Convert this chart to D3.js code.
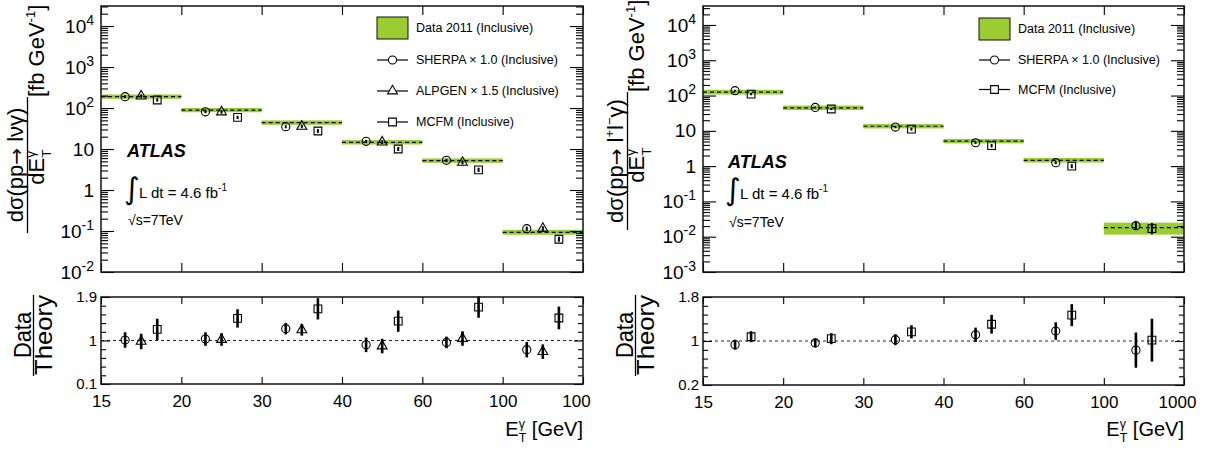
<!DOCTYPE html>
<html>
<head>
<meta charset="utf-8">
<script src="https://cdn.jsdelivr.net/npm/d3@7"></script>
<style>
body { margin: 0; background: #fff; }
svg { display: block; font-family: "Liberation Sans", Arial, Helvetica, sans-serif; }
</style>
</head>
<body>
<svg id="chart" width="1211" height="450"></svg>
<script>
// bins are drawn with equal width, labels are the bin edges
var wgBinLabels = ['15', '20', '30', '40', '60', '100', '100'],
    zgBinLabels = ['15', '20', '30', '40', '60', '100', '1000'];

// W gamma (left) - measured cross section and its band
var wgData   = [190, 89, 44, 14.6, 5.2, 0.093],
    wgBandLo = [168, 79, 39, 12.9, 4.6, 0.081],
    wgBandHi = [214, 100, 50, 16.5, 5.9, 0.107];

// W gamma predictions
var wgSherpa    = [189, 81, 35, 15.4, 5.3, 0.114],
    wgSherpaErr = [0.08, 0.08, 0.09, 0.09, 0.1, 0.12],
    wgAlpgen    = [195, 80, 35.6, 14.7, 4.7, 0.115],
    wgAlpgenErr = [0.1, 0.1, 0.1, 0.11, 0.12, 0.14],
    wgMcfm      = [157, 59, 27.5, 10, 3.1, 0.063],
    wgMcfmErr   = [0.1, 0.1, 0.11, 0.12, 0.13, 0.15];

// W gamma data / theory
var wgSherpaRatio    = [1.01, 1.03, 1.245, 0.91, 0.96, 0.81],
    wgSherpaRatioErr = [0.16, 0.14, 0.12, 0.15, 0.12, 0.16],
    wgAlpgenRatio    = [0.98, 1.02, 1.22, 0.885, 1.04, 0.77],
    wgAlpgenRatioErr = [0.16, 0.13, 0.12, 0.15, 0.15, 0.15],
    wgMcfmRatio      = [1.23, 1.457, 1.655, 1.40, 1.69, 1.466],
    wgMcfmRatioErr   = [0.22, 0.19, 0.22, 0.22, 0.22, 0.235];

// Z gamma (right)
var zgData   = [125, 45, 13.5, 5.1, 1.46, 0.018],
    zgBandLo = [107, 39, 11.7, 4.4, 1.26, 0.0115],
    zgBandHi = [146, 52, 15.6, 5.9, 1.7, 0.025];

var zgSherpa    = [137, 46, 12.8, 4.6, 1.25, 0.0205],
    zgSherpaErr = [0.06, 0.06, 0.07, 0.08, 0.1, 0.3],
    zgMcfm      = [110, 41.7, 11.2, 3.8, 1.0, 0.0169],
    zgMcfmErr   = [0.08, 0.08, 0.1, 0.12, 0.14, 0.45];

var zgSherpaRatio    = [0.934, 0.964, 1.024, 1.113, 1.18, 0.834],
    zgSherpaRatioErr = [0.09, 0.08, 0.1, 0.13, 0.16, 0.32],
    zgMcfmRatio      = [1.078, 1.042, 1.167, 1.305, 1.47, 1.015],
    zgMcfmRatioErr   = [0.1, 0.1, 0.12, 0.17, 0.2, 0.39];

var green = '#9acd32';
var svg = d3.select('#chart');


drawPanel({
	left: 101, right: 583, top: 6, bottom: 272, rTop: 297, rBottom: 384,
	yDomain: [1e-2, 3.08e4], rDomain: [0.1, 1.9], rMajor: [0.1, 1, 1.9],
	labels: wgBinLabels, data: wgData, bandLo: wgBandLo, bandHi: wgBandHi,
	series: [
		{name: 'SHERPA \u00d7 1.0 (Inclusive)', shape: d3.symbolCircle, size: 52, frac: 0.3,
		 vals: wgSherpa, err: wgSherpaErr, ratio: wgSherpaRatio, ratioErr: wgSherpaRatioErr},
		{name: 'ALPGEN \u00d7 1.5 (Inclusive)', shape: d3.symbolTriangle, size: 42, frac: 0.5,
		 vals: wgAlpgen, err: wgAlpgenErr, ratio: wgAlpgenRatio, ratioErr: wgAlpgenRatioErr},
		{name: 'MCFM (Inclusive)', shape: d3.symbolSquare, size: 60, frac: 0.7,
		 vals: wgMcfm, err: wgMcfmErr, ratio: wgMcfmRatio, ratioErr: wgMcfmRatioErr}
	],
	legend: {x: 377, boxTop: 17, rows: [60, 91, 122]},
	title: {num: [['d\u03c3(pp'], ['\u2192', 'arrow'], [' l\u03bd\u03b3)']], numX: 23, numY: 165,
	        barX: 27.5, barY: [97, 233], denX: 44, denY: 167, unitY: 97},
	ratioTitle: {x: 0},
	atlas: {x: 127, y: 157, lumiY: 198, sqrtY: 225}
});

drawPanel({
	left: 703, right: 1184, top: 6, bottom: 272, rTop: 297, rBottom: 385,
	yDomain: [1e-3, 3.45e4], rDomain: [0.2, 1.8], rMajor: [0.2, 1, 1.8],
	labels: zgBinLabels, data: zgData, bandLo: zgBandLo, bandHi: zgBandHi,
	series: [
		{name: 'SHERPA \u00d7 1.0 (Inclusive)', shape: d3.symbolCircle, size: 52, frac: 0.4,
		 vals: zgSherpa, err: zgSherpaErr, ratio: zgSherpaRatio, ratioErr: zgSherpaRatioErr},
		{name: 'MCFM (Inclusive)', shape: d3.symbolSquare, size: 60, frac: 0.6,
		 vals: zgMcfm, err: zgMcfmErr, ratio: zgMcfmRatio, ratioErr: zgMcfmRatioErr}
	],
	legend: {x: 979, boxTop: 18, rows: [60, 89.5]},
	title: {num: [['d\u03c3(pp'], ['\u2192', 'arrow'], [' l'], ['+', 'sup'], ['l'], ['\u2212', 'sup'], ['\u03b3)']],
	        numX: 623, numY: 161, barX: 627.5, barY: [92, 230], denX: 644, denY: 165, unitY: 92},
	ratioTitle: {x: 602},
	atlas: {x: 728, y: 168, lumiY: 199, sqrtY: 227}
});


function logTicks(domain) {
	var maj = [], min = [];
	for (var e = Math.floor(Math.log10(domain[0])); e <= Math.ceil(Math.log10(domain[1])); e++) {
		var p = Math.pow(10, e);
		if (p >= domain[0] * 0.999 && p <= domain[1]) maj.push(p);
		for (var k = 2; k < 10; k++) {
			if (k * p > domain[0] && k * p < domain[1]) min.push(k * p);
		}
	}
	return {maj: maj, min: min};
}

// E_T^gamma with stacked sub/superscript
function appendEt(text, fs) {
	text.append('tspan').text('E');
	text.append('tspan').attr('font-size', fs * 0.62).attr('dy', -0.42 * fs).text('\u03b3');
	text.append('tspan').attr('font-size', fs * 0.62).attr('dx', -0.31 * fs).attr('dy', 0.72 * fs).text('T');
	return text.append('tspan').attr('dy', -0.30 * fs);
}

function cleanAxis(g) {
	g.attr('font-family', null).attr('font-size', null);
	g.select('.domain').remove();
	g.selectAll('.tick line').attr('stroke', '#000').attr('stroke-width', 1.1);
}

function drawPanel(c) {
	var g = svg.append('g');
	var nBins = c.data.length;

	var x = d3.scaleLinear().domain([0, nBins]).range([c.left, c.right]);
	var y = d3.scaleLog().domain(c.yDomain).range([c.bottom, c.top]);
	var yr = d3.scaleLinear().domain(c.rDomain).range([c.rBottom, c.rTop]);
	var bins = d3.range(nBins);

	// ---- top panel ----
	g.append('g').selectAll('rect').data(bins).enter().append('rect')
		.attr('x', i => x(i)).attr('width', i => x(i + 1) - x(i))
		.attr('y', i => y(c.bandHi[i])).attr('height', i => y(c.bandLo[i]) - y(c.bandHi[i]))
		.attr('fill', green);

	g.append('g').selectAll('line').data(bins).enter().append('line')
		.attr('x1', i => x(i)).attr('x2', i => x(i + 1))
		.attr('y1', i => y(c.data[i])).attr('y2', i => y(c.data[i]))
		.attr('stroke', '#000').attr('stroke-width', 1.2).attr('stroke-dasharray', '4,3');

	// ratio reference line
	g.append('line')
		.attr('x1', c.left).attr('x2', c.right).attr('y1', yr(1)).attr('y2', yr(1))
		.attr('stroke', '#222').attr('stroke-width', 1).attr('stroke-dasharray', '3,3');

	c.series.forEach(function(s) {
		var sym = d3.symbol().type(s.shape).size(s.size);
		var sg = g.append('g');
		// top panel error bars + markers
		sg.selectAll('.etop').data(bins).enter().append('line')
			.attr('x1', i => x(i + s.frac)).attr('x2', i => x(i + s.frac))
			.attr('y1', i => y(s.vals[i] * (1 + s.err[i]))).attr('y2', i => y(s.vals[i] / (1 + s.err[i])))
			.attr('stroke', '#000').attr('stroke-width', 2);
		sg.selectAll('.mtop').data(bins).enter().append('path')
			.attr('d', sym)
			.attr('transform', i => `translate(${x(i + s.frac)},${y(s.vals[i])})`)
			.attr('fill', 'none').attr('stroke', '#000').attr('stroke-width', 1.1);
		// ratio panel
		sg.selectAll('.erat').data(bins).enter().append('line')
			.attr('x1', i => x(i + s.frac)).attr('x2', i => x(i + s.frac))
			.attr('y1', i => yr(s.ratio[i] + s.ratioErr[i])).attr('y2', i => yr(s.ratio[i] - s.ratioErr[i]))
			.attr('stroke', '#000').attr('stroke-width', 2.6);
		sg.selectAll('.mrat').data(bins).enter().append('path')
			.attr('d', sym)
			.attr('transform', i => `translate(${x(i + s.frac)},${yr(s.ratio[i])})`)
			.attr('fill', 'none').attr('stroke', '#000').attr('stroke-width', 1.1);
	});

	// ---- axes ----
	var lt = logTicks(c.yDomain);
	g.append('g').attr('transform', `translate(${c.left},0)`)
		.call(d3.axisLeft(y).tickValues(lt.min).tickSize(-7).tickFormat(''))
		.call(cleanAxis);
	g.append('g').attr('transform', `translate(${c.right},0)`)
		.call(d3.axisRight(y).tickValues(lt.min).tickSize(-7).tickFormat(''))
		.call(cleanAxis);
	g.append('g').attr('transform', `translate(${c.right},0)`)
		.call(d3.axisRight(y).tickValues(lt.maj).tickSize(-13).tickFormat(''))
		.call(cleanAxis);
	var yl = g.append('g').attr('transform', `translate(${c.left},0)`)
		.call(d3.axisLeft(y).tickValues(lt.maj).tickSize(-13).tickPadding(7).tickFormat(''))
		.call(cleanAxis);
	yl.selectAll('.tick text').attr('font-size', 19).attr('fill', '#000').each(function(d) {
		var e = Math.round(Math.log10(d)), t = d3.select(this);
		if (e === 0) t.text('1');
		else if (e === 1) t.text('10');
		else {
			t.append('tspan').text('10');
			t.append('tspan').attr('font-size', 14).attr('dy', -8).text(e < 0 ? '-' + (-e) : e);
		}
	});

	g.append('g').attr('transform', `translate(0,${c.bottom})`)
		.call(d3.axisBottom(x).tickValues(d3.range(nBins + 1)).tickSize(-9).tickFormat(''))
		.call(cleanAxis);
	g.append('g').attr('transform', `translate(0,${c.top})`)
		.call(d3.axisTop(x).tickValues(d3.range(nBins + 1)).tickSize(-9).tickFormat(''))
		.call(cleanAxis);

	// ratio axes
	var rStep = (c.rDomain[1] - c.rDomain[0]) / 10;
	var rMinor = d3.range(11).map(k => c.rDomain[0] + k * rStep)
		.filter(v => !c.rMajor.some(m => Math.abs(m - v) < 1e-6));
	g.append('g').attr('transform', `translate(${c.left},0)`)
		.call(d3.axisLeft(yr).tickValues(rMinor).tickSize(-5).tickFormat(''))
		.call(cleanAxis);
	g.append('g').attr('transform', `translate(${c.right},0)`)
		.call(d3.axisRight(yr).tickValues(rMinor).tickSize(-5).tickFormat(''))
		.call(cleanAxis);
	g.append('g').attr('transform', `translate(${c.right},0)`)
		.call(d3.axisRight(yr).tickValues(c.rMajor).tickSize(-9).tickFormat(''))
		.call(cleanAxis);
	g.append('g').attr('transform', `translate(${c.left},0)`)
		.call(d3.axisLeft(yr).tickValues(c.rMajor).tickSize(-9).tickPadding(4).tickFormat(d3.format('')))
		.call(cleanAxis)
		.selectAll('.tick text').attr('font-size', 15).attr('fill', '#000');

	g.append('g').attr('transform', `translate(0,${c.rTop})`)
		.call(d3.axisTop(x).tickValues(d3.range(nBins + 1)).tickSize(-7).tickFormat(''))
		.call(cleanAxis);
	var xb = g.append('g').attr('transform', `translate(0,${c.rBottom})`)
		.call(d3.axisBottom(x).tickValues(d3.range(nBins + 1)).tickSize(-7).tickPadding(11)
			.tickFormat(i => c.labels[i]))
		.call(cleanAxis);
	xb.selectAll('.tick text').attr('font-size', 17).attr('fill', '#000')
		.attr('dx', i => i === nBins ? -7 : 0);

	// frames
	[[c.top, c.bottom], [c.rTop, c.rBottom]].forEach(function(p) {
		g.append('rect').attr('x', c.left).attr('y', p[0])
			.attr('width', c.right - c.left).attr('height', p[1] - p[0])
			.attr('fill', 'none').attr('stroke', '#111').attr('stroke-width', 1.5);
	});

	// x title
	var xt = g.append('text').attr('x', c.right).attr('y', 436)
		.attr('text-anchor', 'end').attr('font-size', 20);
	appendEt(xt, 20).text(' [GeV]');

	// y title (top panel)
	var t = c.title;
	var num = g.append('text').attr('transform', `translate(${t.numX},${t.numY}) rotate(-90)`)
		.attr('text-anchor', 'middle').attr('font-size', 22);
	var shift = 0;
	t.num.forEach(function(p) {
		var target = p[1] === 'sup' ? -9 : 0;
		var ts = num.append('tspan').attr('dy', target - shift).text(p[0]);
		if (p[1] === 'sup') ts.attr('font-size', 13);
		if (p[1] === 'arrow') ts.attr('font-family', 'DejaVu Sans').attr('font-size', 20);
		shift = target;
	});
	g.append('line').attr('x1', t.barX).attr('x2', t.barX).attr('y1', t.barY[0]).attr('y2', t.barY[1])
		.attr('stroke', '#000').attr('stroke-width', 1.3);
	var den = g.append('text').attr('transform', `translate(${t.denX},${t.denY}) rotate(-90)`)
		.attr('text-anchor', 'middle').attr('font-size', 22);
	den.append('tspan').text('d');
	appendEt(den, 22);
	var unit = g.append('text').attr('transform', `translate(${t.denX},${t.unitY}) rotate(-90)`)
		.attr('font-size', 22);
	unit.append('tspan').text('[fb GeV');
	unit.append('tspan').attr('font-size', 13).attr('dy', -9).text('-1');
	unit.append('tspan').attr('dy', 9).text(']');

	// ratio title
	var rx = c.ratioTitle.x;
	g.append('text').attr('transform', `translate(${rx + 31},335) rotate(-90)`)
		.attr('text-anchor', 'middle').attr('font-size', 24)
		.attr('textLength', 46).attr('lengthAdjust', 'spacingAndGlyphs').text('Data');
	g.append('line').attr('x1', rx + 33.5).attr('x2', rx + 33.5).attr('y1', 295).attr('y2', 376)
		.attr('stroke', '#000').attr('stroke-width', 1.3);
	g.append('text').attr('transform', `translate(${rx + 52},335) rotate(-90)`)
		.attr('text-anchor', 'middle').attr('font-size', 24)
		.attr('textLength', 80).attr('lengthAdjust', 'spacingAndGlyphs').text('Theory');

	// legend
	var L = c.legend;
	g.append('rect').attr('x', L.x).attr('y', L.boxTop).attr('width', 31).attr('height', 22)
		.attr('fill', green).attr('stroke', '#111').attr('stroke-width', 1);
	g.append('text').attr('x', L.x + 39).attr('y', L.boxTop + 11).attr('dy', '0.35em')
		.attr('font-size', 12.5).text('Data 2011 (Inclusive)');
	c.series.forEach(function(s, k) {
		var ly = L.rows[k];
		g.append('line').attr('x1', L.x).attr('x2', L.x + 31).attr('y1', ly).attr('y2', ly)
			.attr('stroke', '#000').attr('stroke-width', 1.2);
		g.append('path').attr('d', d3.symbol().type(s.shape).size(s.size)())
			.attr('transform', `translate(${L.x + 15.5},${ly})`)
			.attr('fill', '#fff').attr('stroke', '#000').attr('stroke-width', 1.1);
		g.append('text').attr('x', L.x + 39).attr('y', ly).attr('dy', '0.35em')
			.attr('font-size', 12.5).text(s.name);
	});

	// ATLAS label
	var A = c.atlas;
	g.append('text').attr('x', A.x).attr('y', A.y).attr('font-size', 18)
		.attr('font-weight', 'bold').attr('font-style', 'italic').text('ATLAS');
	g.append('text').attr('x', A.x - 3).attr('y', A.lumiY + 1).attr('font-size', 30)
		.attr('font-family', 'DejaVu Sans').text('\u222b');
	var lumi = g.append('text').attr('x', A.x + 12).attr('y', A.lumiY).attr('font-size', 15);
	lumi.append('tspan').text('L dt = 4.6 fb');
	lumi.append('tspan').attr('font-size', 10).attr('dy', -7).text('-1');
	g.append('text').attr('x', A.x + 1).attr('y', A.sqrtY).attr('font-size', 14).text('\u221as=7TeV');
}
</script>
</body>
</html>
